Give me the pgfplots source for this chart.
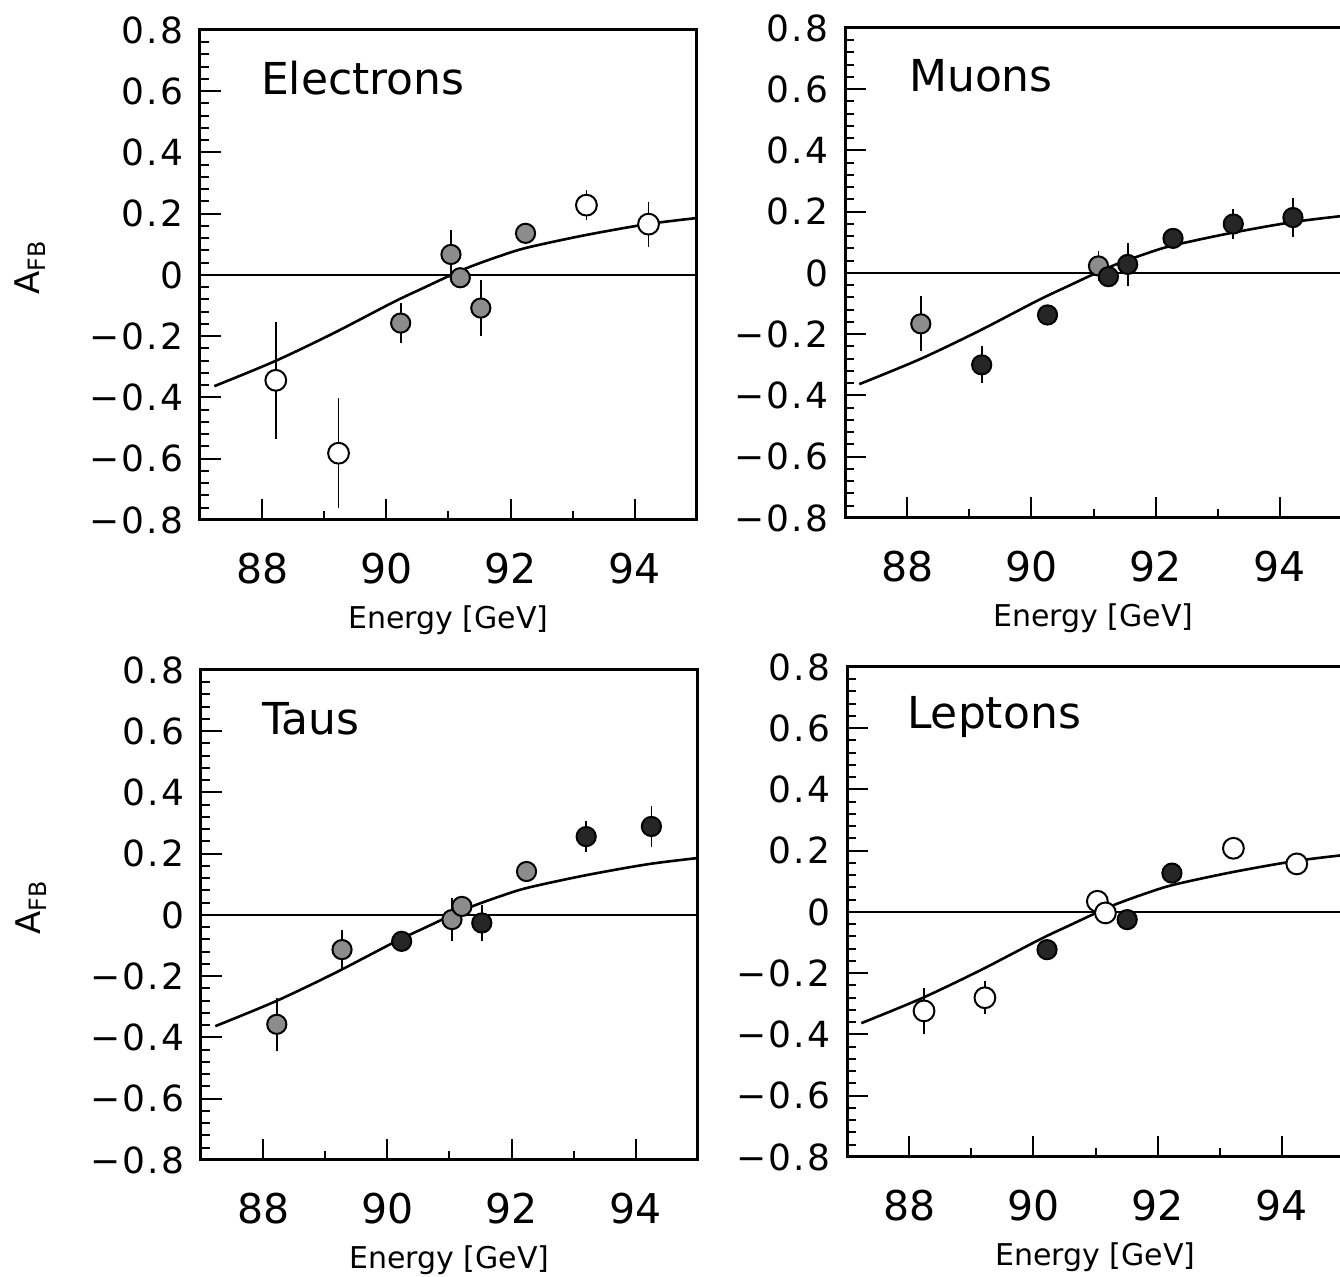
\documentclass[border=0pt]{standalone}
\usepackage{fontspec}
\setmainfont{DejaVu Sans}
\newfontfamily\tickfont[LetterSpace=6]{DejaVu Sans}
\usepackage{pgfplots}
\pgfplotsset{compat=1.18}

\tikzset{paneltitle/.style={anchor=west, font=\fontsize{22}{24}\selectfont, xshift=-4pt}}

\pgfplotsset{
  panel/.style={
    scale only axis, width=248.5pt, height=245pt,
    xmin=87, xmax=95, ymin=-0.8, ymax=0.8,
    xtick={88,90,92,94}, xticklabels={88,90,92,94},
    minor xtick={89,91,93},
    ytick={-0.8,-0.6,-0.4,-0.2,0,0.2,0.4,0.6,0.8},
    yticklabels={−0.8,−0.6,−0.4,−0.2,0,0.2,0.4,0.6,0.8},
    minor y tick num=4,
    tick align=inside, tick pos=left,
    major tick length=10.5pt, minor tick length=4.5pt,
    axis line style={line width=1.5pt},
    every tick/.style={line width=1pt, black},
    xticklabel style={font=\fontsize{20.5}{22}\selectfont, yshift=-13pt},
    yticklabel style={font=\tickfont\fontsize{18}{19}\selectfont, xshift=-5pt},
    xlabel={Energy [GeV]},
    xlabel style={font=\fontsize{15}{16}\selectfont, at={(axis description cs:0.5,0)}, anchor=center, yshift=-50pt},
  },
  ylab/.style={
    ylabel={A\textsubscript{FB}},
    ylabel style={font=\fontsize{17}{18}\selectfont, at={(axis description cs:-0.342,0.515)}, anchor=center},
  },
  openpt/.style={only marks, mark=*, mark size=5.2pt,
    mark options={fill=white, draw=black, line width=1pt},
    error bars/.cd, y dir=both, y explicit, error mark=none,
    error bar style={line width=0.9pt, black}},
  hatchpt/.style={only marks, mark=*, mark size=4.8pt,
    mark options={fill=black!45, draw=black, line width=1pt},
    error bars/.cd, y dir=both, y explicit, error mark=none,
    error bar style={line width=0.9pt, black}},
  darkpt/.style={only marks, mark=*, mark size=4.8pt,
    mark options={fill=black!85, draw=black, line width=1pt},
    error bars/.cd, y dir=both, y explicit, error mark=none,
    error bar style={line width=0.9pt, black}},
}

\newcommand{\curveandzero}{%
  \addplot[line width=1.3pt, smooth, black] coordinates {
    (87.23,-0.363) (88.2,-0.282) (89.15,-0.19) (90.1,-0.09) (90.6,-0.042)
    (91.0,-0.004) (91.35,0.027) (91.8,0.060) (92.26,0.089) (93.2,0.130)
    (94.2,0.166) (95,0.186)};
  \addplot[line width=1.3pt, black] coordinates {(87,0) (95,0)};
}

\begin{document}
\begin{tikzpicture}
\useasboundingbox (0,0) rectangle (670pt,638.5pt);

% Electrons
\begin{axis}[panel, ylab, at={(100pt,378.5pt)}, anchor=south west]
\curveandzero
\addplot[openpt] coordinates {
  (88.22,-0.344) +- (0,0.19)
  (89.23,-0.582) +- (0,0.18)
  (93.22,0.228) +- (0,0.05)
  (94.22,0.166) +- (0,0.073)};
\addplot[hatchpt] coordinates {
  (90.23,-0.157) +- (0,0.065)
  (91.04,0.067) +- (0,0.08)
  (91.19,-0.009) +- (0,0.02)
  (91.52,-0.108) +- (0,0.09)
  (92.24,0.136) +- (0,0.03)};
\node[paneltitle] at (rel axis cs:0.125,0.902) {Electrons};
\end{axis}

% Muons
\begin{axis}[panel, at={(422.5pt,379.5pt)}, anchor=south west]
\curveandzero
\addplot[hatchpt] coordinates {
  (88.22,-0.166) +- (0,0.09)
  (91.08,0.023) +- (0,0.05)};
\addplot[darkpt] coordinates {
  (89.2,-0.30) +- (0,0.06)
  (90.26,-0.137) +- (0,0.03)
  (91.24,-0.012) +- (0,0.02)
  (91.55,0.028) +- (0,0.07)
  (92.28,0.113) +- (0,0.025)
  (93.25,0.16) +- (0,0.05)
  (94.21,0.181) +- (0,0.065)};
\node[paneltitle] at (rel axis cs:0.131,0.902) {Muons};
\end{axis}

% Taus
\begin{axis}[panel, ylab, at={(100.5pt,58.5pt)}, anchor=south west]
\curveandzero
\addplot[hatchpt] coordinates {
  (88.22,-0.357) +- (0,0.087)
  (89.27,-0.113) +- (0,0.065)
  (91.04,-0.015) +- (0,0.07)
  (91.2,0.028) +- (0,0.03)
  (92.24,0.142) +- (0,0.03)};
\addplot[darkpt] coordinates {
  (90.23,-0.086) +- (0,0.03)
  (91.52,-0.026) +- (0,0.06)
  (93.2,0.256) +- (0,0.05)
  (94.25,0.289) +- (0,0.068)};
\node[paneltitle] at (rel axis cs:0.125,0.90) {Taus};
\end{axis}

% Leptons
\begin{axis}[panel, at={(423.5pt,60pt)}, anchor=south west]
\curveandzero
\addplot[openpt] coordinates {
  (88.24,-0.323) +- (0,0.076)
  (89.22,-0.28) +- (0,0.054)
  (91.03,0.035) +- (0,0.035)
  (91.16,-0.003) +- (0,0.02)
  (93.22,0.208) +- (0,0.0)
  (94.24,0.157) +- (0,0.0)};
\addplot[darkpt] coordinates {
  (90.22,-0.123) +- (0,0.02)
  (91.51,-0.025) +- (0,0.02)
  (92.23,0.127) +- (0,0.02)};
\node[paneltitle] at (rel axis cs:0.123,0.898) {Leptons};
\end{axis}
\end{tikzpicture}
\end{document}
